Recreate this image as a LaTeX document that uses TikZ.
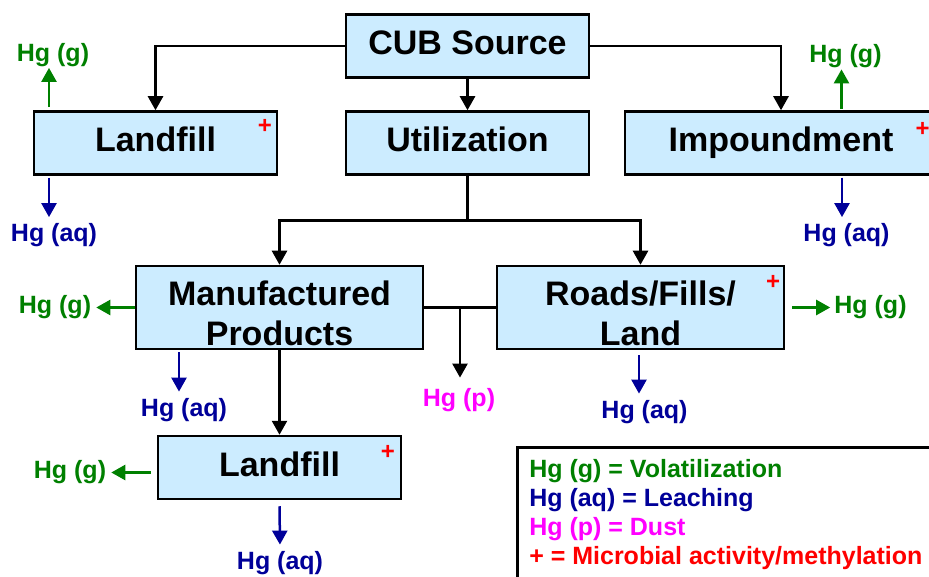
\documentclass[tikz,border=0pt]{standalone}
\usepackage{fontspec}
\setmainfont{Liberation Sans}
\usetikzlibrary{arrows.meta,positioning,calc}

\definecolor{boxfill}{RGB}{204,236,255}
\definecolor{hggreen}{RGB}{0,128,0}
\definecolor{hgblue}{RGB}{0,0,153}
\definecolor{hgpink}{RGB}{255,0,255}
\newcommand{\boxfont}{\fontsize{34}{40}\selectfont\bfseries}
\newcommand{\hgfont}{\fontsize{25}{29}\selectfont\bfseries}
\newcommand{\plusfont}{\fontsize{24}{24}\selectfont\bfseries}

\begin{document}
\begin{tikzpicture}[x=1pt, y=-1pt,
  >={Triangle[length=14pt,width=15pt]},
  box/.style={draw, line width=2.5pt, fill=boxfill, minimum width=243pt, minimum height=63pt,
    inner sep=0pt, text height=25pt, text depth=7pt, font=\boxfont},
  tallbox/.style={box, minimum width=287pt, minimum height=83pt, align=center,
    text height=75pt, text depth=0pt},
  flow/.style={->, line width=2.5pt},
  link/.style={line width=2.5pt},
  gas/.style={text=hggreen, font=\hgfont, inner sep=1pt},
  aq/.style={text=hgblue, font=\hgfont, inner sep=1pt},
  dust/.style={text=hgpink, font=\hgfont, inner sep=1pt},
  gasline/.style={->, line width=2.5pt, hggreen},
  aqline/.style={->, line width=2.5pt, hgblue},
  plus/.style={text=red, font=\plusfont, inner sep=0pt},
  legendbox/.style={draw, line width=2.5pt, align=left, font=\hgfont, inner xsep=12pt, inner ysep=12.25pt}]
  \useasboundingbox (0,0) rectangle (929,577);
  \clip (0,0) rectangle (929,577);

  % boxes
  \node[box] (src) at (467.5,46) {CUB Source};
  \node[box, below=31.5pt of src] (util) {Utilization};
  \node[box, left=66.5pt of util] (lf1) {Landfill};
  \node[box, right=33.5pt of util, minimum width=312pt] (imp) {Impoundment};
  \node[tallbox] (mfg) at (279.5,307.5) {Manufactured\\Products};
  \node[tallbox] (road) at (640.5,307.5) {Roads/Fills/\\Land};
  \node[box, below=84.5pt of mfg] (lf2) {Landfill};

  % flows
  \draw[flow] (src.west) -| (lf1.north);
  \draw[flow] (src.south) -- (util.north);
  \draw[flow] (src.east) -| (imp.north);
  \coordinate (split) at ($(util.south)+(0,45)$);
  \draw[link] (util.south) -- (split);
  \draw[flow] (split) -| (mfg.north);
  \draw[flow] (split) -| (road.north);
  \draw[link] (mfg.east) -- (road.west);
  \coordinate (dust) at ($(mfg.east)!0.5!(road.west)$);
  \draw[flow] (mfg.south) -- (lf2.north);

  % mercury releases
  \node[gas] (lf1g) at (53,55) {Hg (g)};
  \node[aq] (lf1aq) at (54,235) {Hg (aq)};
  \node[gas] (impg) at (845.5,56.5) {Hg (g)};
  \node[aq] (impaq) at (846.5,235.5) {Hg (aq)};
  \node[gas] (mfgg) at (55,307.5) {Hg (g)};
  \node[aq] (mfgaq) at (184,410.5) {Hg (aq)};
  \node[dust] (hgp) at (459,400.5) {Hg (p)};
  \node[gas] (roadg) at (870.5,307.5) {Hg (g)};
  \node[aq] (roadaq) at (644.5,412.5) {Hg (aq)};
  \node[gas] (lf2g) at (70,472.5) {Hg (g)};
  \node[aq] (lf2aq) at (280,563.5) {Hg (aq)};

  \draw[gasline] ($(lf1g.south |- lf1.north)+(-4,-3)$) -- ($(lf1g.south)+(-4,0)$);
  \draw[aqline] ($(lf1aq.north |- lf1.south)+(-5,2)$) -- ($(lf1aq.north)+(-5,-5)$);
  \draw[gasline] ($(impg.south |- imp.north)+(-4,-1)$) -- ($(impg.south)+(-4,0)$);
  \draw[aqline] ($(impaq.north |- imp.south)+(-4.5,2)$) -- ($(impaq.north)+(-4.5,-5.5)$);
  \draw[gasline, shorten >=4pt] (mfg.west) -- (mfgg.east);
  \draw[aqline] ($(mfgaq.north |- mfg.south)+(-5,2)$) -- ($(mfgaq.north)+(-5,-6)$);
  \draw[flow, shorten >=10pt] (dust) -- (dust |- hgp.north);
  \draw[gasline, shorten <=7pt, shorten >=3pt] (road.east) -- (roadg.west);
  \draw[aqline] ($(roadaq.north |- road.south)+(-5.5,5)$) -- ($(roadaq.north)+(-5.5,-6)$);
  \draw[gasline, shorten <=6pt, shorten >=4pt] (lf2.west |- lf2g.east) -- (lf2g.east);
  \draw[aqline, shorten <=6pt, shorten >=6pt] (lf2.south) -- (lf2aq.north);

  % methylation marks
  \node[plus] (lf1plus) at (265,126) {+};
  \node[plus] (impplus) at (922.5,129) {+};
  \node[plus] (roadplus) at (773,282) {+};
  \node[plus] (lf2plus) at (388,452) {+};

  \node[legendbox, anchor=north west] (legend) at (516,446)
    {\textcolor{hggreen}{Hg (g) = Volatilization}\\
     \textcolor{hgblue}{Hg (aq) = Leaching}\\
     \textcolor{hgpink}{Hg (p) = Dust}\\
     \textcolor{red}{+ = Microbial activity/methylation}};
\end{tikzpicture}
\end{document}
